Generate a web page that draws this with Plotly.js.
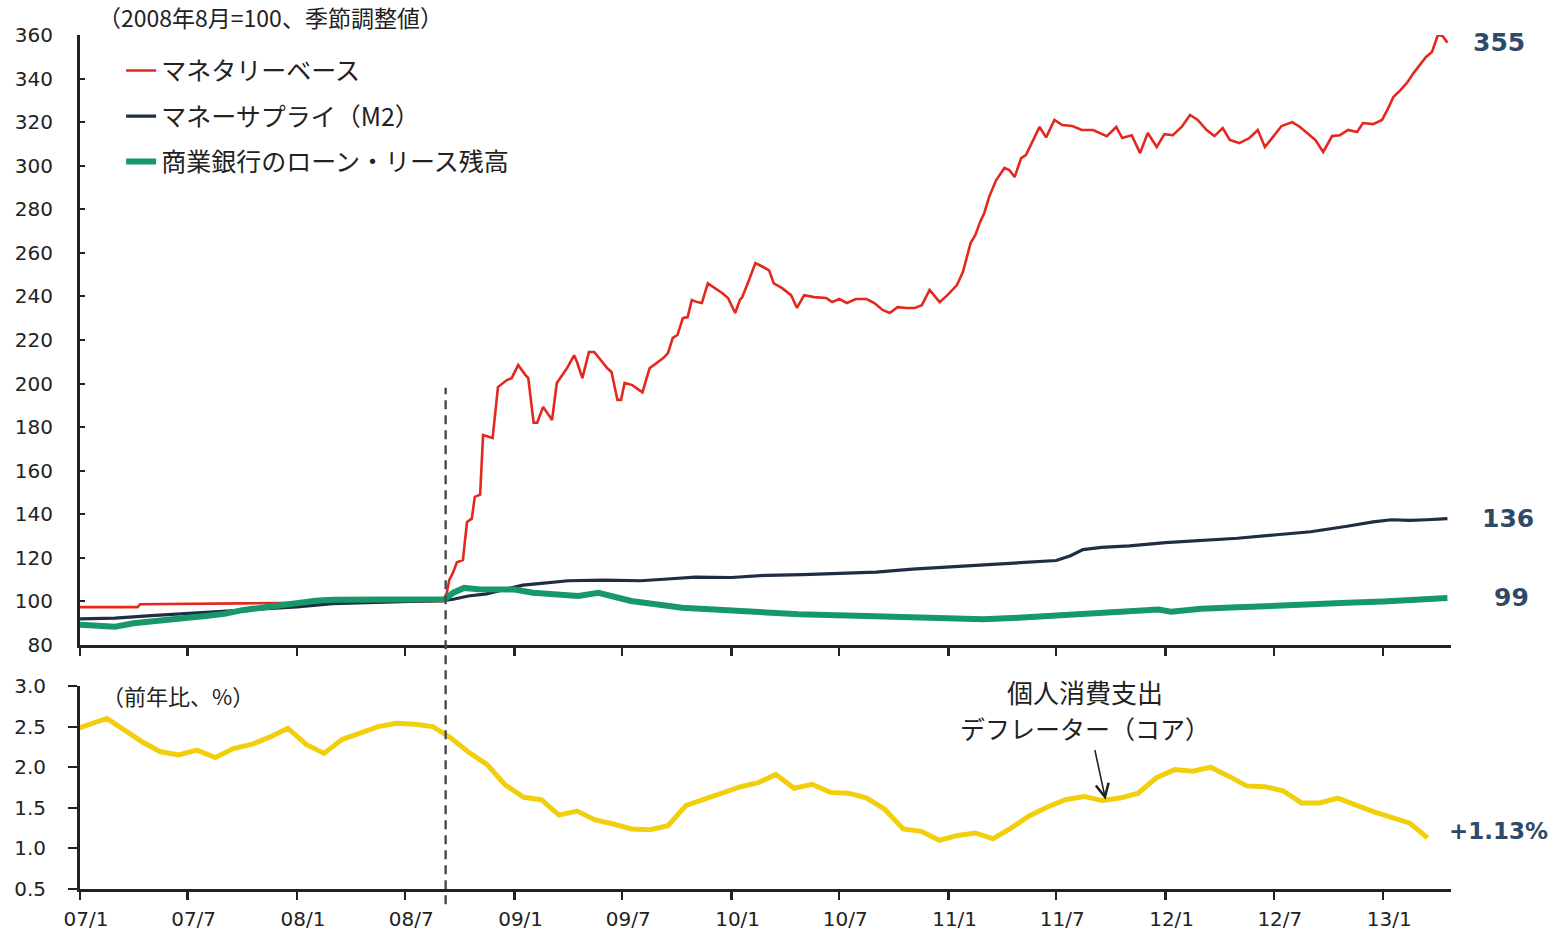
<!DOCTYPE html>
<html>
<head>
<meta charset="utf-8">
<script src="https://cdn.plot.ly/plotly-3.0.1.min.js"></script>
<style>
html,body{margin:0;padding:0;background:#fff;}
#chart{width:1553px;height:935px;}
</style>
</head>
<body>
<div id="chart"></div>
<script>
// ---- X axis ticks ----
const tickDates = ['2007-01-01','2007-07-01','2008-01-01','2008-07-01','2009-01-01','2009-07-01','2010-01-01','2010-07-01','2011-01-01','2011-07-01','2012-01-01','2012-07-01','2013-01-01'];
const tickLabels = ['07/1','07/7','08/1','08/7','09/1','09/7','10/1','10/7','11/1','11/7','12/1','12/7','13/1'];
const xStart = '2007-01-01';
const xEnd = '2013-04-25';
const lehmanDate = '2008-09-07';

// ---- Monetary base (2008/8 = 100) ----
const baseDates = ['2007-01-01','2007-04-08','2007-04-12','2007-08-20','2007-10-01','2007-12-01','2008-02-01','2008-04-01','2008-06-01','2008-08-01','2008-09-03','2008-09-09','2008-09-13','2008-09-19','2008-09-26','2008-10-06','2008-10-13','2008-10-21','2008-10-26','2008-11-04','2008-11-09','2008-11-25','2008-12-04','2008-12-19','2008-12-27','2009-01-07','2009-01-19','2009-01-24','2009-02-02','2009-02-08','2009-02-18','2009-03-05','2009-03-13','2009-03-25','2009-03-30','2009-04-11','2009-04-16','2009-04-25','2009-05-06','2009-05-15','2009-05-23','2009-06-06','2009-06-13','2009-06-23','2009-06-29','2009-07-05','2009-07-18','2009-08-04','2009-08-16','2009-08-28','2009-09-08','2009-09-16','2009-09-24','2009-10-02','2009-10-11','2009-10-19','2009-10-26','2009-11-04','2009-11-12','2009-11-22','2009-12-04','2009-12-16','2009-12-26','2010-01-07','2010-01-15','2010-01-19','2010-01-29','2010-02-10','2010-02-23','2010-03-05','2010-03-13','2010-03-27','2010-04-11','2010-04-21','2010-05-03','2010-05-20','2010-06-09','2010-06-19','2010-07-01','2010-07-14','2010-07-29','2010-08-16','2010-08-29','2010-09-12','2010-09-24','2010-10-07','2010-10-22','2010-11-05','2010-11-17','2010-11-30','2010-12-17','2010-12-30','2011-01-15','2011-01-25','2011-02-07','2011-02-15','2011-02-23','2011-03-02','2011-03-10','2011-03-22','2011-04-05','2011-04-13','2011-04-22','2011-05-03','2011-05-11','2011-05-21','2011-06-03','2011-06-14','2011-06-28','2011-07-11','2011-07-28','2011-08-13','2011-09-01','2011-09-24','2011-10-10','2011-10-20','2011-11-05','2011-11-19','2011-12-02','2011-12-17','2011-12-30','2012-01-13','2012-01-28','2012-02-11','2012-02-24','2012-03-10','2012-03-23','2012-04-06','2012-04-18','2012-05-04','2012-05-21','2012-06-04','2012-06-16','2012-06-29','2012-07-14','2012-08-01','2012-08-14','2012-08-26','2012-09-09','2012-09-22','2012-10-07','2012-10-20','2012-11-03','2012-11-18','2012-11-28','2012-12-15','2012-12-30','2013-01-08','2013-01-18','2013-01-30','2013-02-11','2013-02-21','2013-03-03','2013-03-14','2013-03-24','2013-04-03','2013-04-11','2013-04-19'];
const baseValues = [97.4,97.4,98.7,98.8,99.1,99.3,99.4,99.6,99.8,100.0,100.1,104.0,109.8,113.0,118.0,119.0,136.5,138.0,148.0,149.0,176.4,175.0,198.4,201.6,202.5,208.5,204.0,202.5,182.0,182.0,189.3,183.3,200.3,205.3,207.0,213.0,209.9,202.5,214.5,214.5,211.7,207.0,205.3,192.5,192.5,200.3,199.3,196.0,207.0,209.4,211.7,214.0,221.0,222.3,230.0,230.5,238.4,237.4,237.0,246.0,243.8,241.6,239.3,232.4,238.4,239.7,246.6,255.3,253.5,252.0,246.0,243.8,240.6,234.7,240.6,239.7,239.3,237.4,238.8,237.0,238.8,238.8,237.0,233.8,232.4,235.1,234.7,234.7,236.0,243.0,237.4,240.6,245.2,251.2,264.5,268.2,274.2,278.3,285.6,293.4,299.0,298.0,294.8,303.5,304.9,310.4,317.8,313.0,321.0,318.7,318.2,316.4,316.4,313.6,317.8,312.7,314.0,305.8,315.0,308.6,314.5,314.0,317.8,323.3,321.0,316.4,313.6,317.3,311.8,310.4,312.7,316.4,308.6,313.0,318.2,320.0,317.8,315.0,311.8,306.3,313.6,314.0,316.4,315.5,319.6,319.1,321.0,325.6,331.5,334.7,338.4,342.5,346.2,349.9,352.2,360.0,359.5,356.5];

// ---- Money supply M2 (2008/8 = 100) ----
const m2Dates = ['2007-01-01','2007-03-01','2007-05-01','2007-07-01','2007-09-01','2007-11-01','2008-01-01','2008-03-01','2008-05-01','2008-07-01','2008-09-05','2008-09-20','2008-10-15','2008-11-15','2008-12-15','2009-01-15','2009-02-15','2009-04-01','2009-06-01','2009-08-01','2009-09-15','2009-11-01','2010-01-01','2010-03-01','2010-05-01','2010-07-01','2010-09-01','2010-11-01','2011-01-01','2011-03-01','2011-05-01','2011-07-01','2011-07-25','2011-08-15','2011-09-15','2011-11-01','2012-01-01','2012-03-01','2012-05-01','2012-07-01','2012-09-01','2012-11-01','2012-12-15','2013-01-15','2013-02-15','2013-03-15','2013-04-19'];
const m2Values = [92.0,92.3,93.5,94.5,95.5,96.5,97.5,99.0,99.5,99.8,100.5,101.0,102.5,103.5,105.5,107.5,108.3,109.5,109.8,109.5,110.3,111.2,111.0,112.0,112.3,112.8,113.5,114.8,115.8,116.5,117.5,118.8,121.0,123.8,124.8,125.5,127.0,128.0,129.0,130.5,132.0,134.5,136.5,137.5,137.2,137.5,138.0];

// ---- Commercial bank loans & leases (2008/8 = 100) ----
const loanDates = ['2007-01-01','2007-02-01','2007-03-01','2007-04-01','2007-05-01','2007-07-01','2007-08-01','2007-09-01','2007-10-01','2007-11-01','2007-12-01','2008-01-01','2008-02-01','2008-03-01','2008-05-01','2008-07-01','2008-09-05','2008-09-20','2008-10-08','2008-11-01','2008-12-07','2009-01-01','2009-02-01','2009-04-18','2009-05-22','2009-07-16','2009-10-10','2010-01-03','2010-04-24','2010-08-15','2010-12-04','2011-02-28','2011-04-28','2011-07-01','2011-09-01','2011-11-01','2011-12-20','2012-01-10','2012-03-01','2012-05-01','2012-07-01','2012-09-01','2012-11-01','2013-01-01','2013-03-01','2013-04-19'];
const loanValues = [89.3,89.0,88.4,90.0,91.0,92.5,93.3,94.3,96.0,97.2,98.5,99.4,100.3,100.8,100.8,100.8,101.0,104.0,106.2,105.6,105.6,105.5,104.0,102.5,104.0,100.2,97.1,95.6,94.1,93.3,92.5,91.8,92.5,93.5,94.5,95.3,96.3,95.3,96.6,97.3,98.2,98.8,99.4,100.0,100.9,101.6];

// ---- Core PCE deflator (YoY, %) ----
const pceMonths = ['2006-12','2007-01','2007-02','2007-03','2007-04','2007-05','2007-06','2007-07','2007-08','2007-09','2007-10','2007-11','2007-12','2008-01','2008-02','2008-03','2008-04','2008-05','2008-06','2008-07','2008-08','2008-09','2008-10','2008-11','2008-12','2009-01','2009-02','2009-03','2009-04','2009-05','2009-06','2009-07','2009-08','2009-09','2009-10','2009-11','2009-12','2010-01','2010-02','2010-03','2010-04','2010-05','2010-06','2010-07','2010-08','2010-09','2010-10','2010-11','2010-12','2011-01','2011-02','2011-03','2011-04','2011-05','2011-06','2011-07','2011-08','2011-09','2011-10','2011-11','2011-12','2012-01','2012-02','2012-03','2012-04','2012-05','2012-06','2012-07','2012-08','2012-09','2012-10','2012-11','2012-12','2013-01','2013-02','2013-03'];
const pceValues = [2.45,2.52,2.60,2.46,2.31,2.19,2.15,2.21,2.12,2.23,2.28,2.37,2.48,2.28,2.17,2.34,2.42,2.50,2.54,2.53,2.50,2.36,2.18,2.03,1.78,1.63,1.60,1.41,1.46,1.35,1.30,1.24,1.23,1.28,1.53,1.61,1.68,1.76,1.81,1.91,1.74,1.79,1.69,1.68,1.62,1.48,1.24,1.21,1.10,1.16,1.19,1.12,1.25,1.40,1.51,1.60,1.64,1.59,1.62,1.68,1.87,1.97,1.95,2.00,1.89,1.77,1.76,1.71,1.56,1.56,1.62,1.53,1.45,1.38,1.31,1.13];

const seriesNames = ['マネタリーベース','マネーサプライ（M2）','商業銀行のローン・リース残高'];
const endLabels = ['355','136','99','+1.13%'];
const noteTop = '（2008年8月=100、季節調整値）';
const noteBottom = '（前年比、%）';
const pceNote = ['個人消費支出','デフレーター（コア）'];

const RED = '#e3291d', NAVY = '#1f2d45', GREEN = '#16986a', YELLOW = '#f2cf0c';
const LABEL_BLUE = '#2e4a66';
const AX = '#222222';
const jp = '"Noto Sans CJK JP", "Noto Sans", sans-serif';
const num = '"DejaVu Sans", "Noto Sans CJK JP", sans-serif';

const traces = [
  {x: baseDates, y: baseValues, name: seriesNames[0], type: 'scatter', mode: 'lines',
   line: {color: RED, width: 2.6}, xaxis: 'x', yaxis: 'y', legendgroup: 'a'},
  {x: m2Dates, y: m2Values, name: seriesNames[1], type: 'scatter', mode: 'lines',
   line: {color: NAVY, width: 3.2}, xaxis: 'x', yaxis: 'y', legendgroup: 'b'},
  {x: loanDates, y: loanValues, name: seriesNames[2], type: 'scatter', mode: 'lines',
   line: {color: GREEN, width: 6}, xaxis: 'x', yaxis: 'y', legendgroup: 'c'},
  {x: pceMonths, y: pceValues, name: 'PCE', type: 'scatter', mode: 'lines',
   xperiod: 'M1', xperiodalignment: 'middle',
   line: {color: YELLOW, width: 5}, xaxis: 'x2', yaxis: 'y2', showlegend: false}
];

const xCommon = {type: 'date', range: [xStart, xEnd], tickmode: 'array', tickvals: tickDates,
  showgrid: false, zeroline: false, automargin: false, tickcolor: AX, tickwidth: 2.5, ticklen: 8};

const last = a => a[a.length - 1];

const layout = {
  width: 1553, height: 935,
  margin: {l: 80, r: 102, t: 35, b: 46},
  paper_bgcolor: '#ffffff', plot_bgcolor: '#ffffff',
  font: {family: num, color: AX, size: 20},
  showlegend: true,
  legend: {x: 0.03, y: 0.985, xanchor: 'left', yanchor: 'top', bgcolor: 'rgba(0,0,0,0)',
    font: {family: jp, size: 25, color: AX}, traceorder: 'grouped', tracegroupgap: 10},
  xaxis: Object.assign({}, xCommon, {domain: [0, 1], anchor: 'y', ticks: 'outside', showticklabels: false,
    showline: true, linecolor: AX, linewidth: 3}),
  xaxis3: Object.assign({}, xCommon, {overlaying: 'x', anchor: 'y', ticks: 'inside', showticklabels: false, showline: false}),
  xaxis2: Object.assign({}, xCommon, {domain: [0, 1], anchor: 'y2', ticks: 'outside', ticktext: tickLabels,
    showticklabels: true, showline: true, linecolor: AX, linewidth: 3,
    tickfont: {family: num, size: 20, color: AX}, ticklabelstandoff: 2, ticklabelshift: 6}),
  xaxis4: Object.assign({}, xCommon, {overlaying: 'x2', anchor: 'y2', ticks: 'inside', showticklabels: false, showline: false}),
  yaxis: {domain: [0.2857, 1], anchor: 'x', range: [80, 360], tick0: 80, dtick: 20,
    ticks: 'inside', ticklen: 5, tickwidth: 2, tickcolor: AX, showline: true, linecolor: AX, linewidth: 3,
    showgrid: false, zeroline: false, automargin: false, tickfont: {family: num, size: 20, color: AX}, ticklabelstandoff: 20},
  yaxis2: {domain: [0, 0.2377], anchor: 'x2', range: [0.5, 3.0], tick0: 0.5, dtick: 0.5, tickformat: '.1f',
    ticks: 'outside', ticklen: 9, tickwidth: 2, tickcolor: AX, showline: true, linecolor: AX, linewidth: 3,
    showgrid: false, zeroline: false, automargin: false, tickfont: {family: num, size: 20, color: AX}, ticklabelstandoff: 18},
  shapes: [
    {type: 'line', xref: 'x', yref: 'paper', x0: lehmanDate, x1: lehmanDate, y0: -0.018, y1: 0.587,
     line: {color: '#4a4a4a', width: 2.4, dash: '9px,6px'}, layer: 'above'}
  ],
  annotations: [
    {xref: 'paper', yref: 'paper', x: 0.012, y: 1.021, xanchor: 'left', yanchor: 'middle', showarrow: false,
     text: noteTop, font: {family: jp, size: 23, color: AX}},
    {xref: 'paper', yref: 'paper', x: 0.0146, y: 0.2272, xanchor: 'left', yanchor: 'middle', showarrow: false,
     text: noteBottom, font: {family: jp, size: 22, color: AX}},
    {xref: 'paper', yref: 'y', x: 1, xshift: 20, y: last(baseValues), xanchor: 'left', yanchor: 'middle', showarrow: false,
     text: endLabels[0], font: {family: num, size: 25, color: LABEL_BLUE, weight: 'bold'}},
    {xref: 'paper', yref: 'y', x: 1, xshift: 29, y: last(m2Values), xanchor: 'left', yanchor: 'middle', showarrow: false,
     text: endLabels[1], font: {family: num, size: 25, color: LABEL_BLUE, weight: 'bold'}},
    {xref: 'paper', yref: 'y', x: 1, xshift: 41, y: last(loanValues), xanchor: 'left', yanchor: 'middle', showarrow: false,
     text: endLabels[2], font: {family: num, size: 25, color: LABEL_BLUE, weight: 'bold'}},
    {xref: 'paper', yref: 'y2', x: 1, xshift: -4, y: last(pceValues), yshift: 7, xanchor: 'left', yanchor: 'middle', showarrow: false,
     text: endLabels[3], font: {family: num, size: 23, color: LABEL_BLUE, weight: 'bold'}},
    {xref: 'paper', yref: 'paper', x: 0.733, y: 0.2318, xanchor: 'center', yanchor: 'middle', showarrow: false,
     text: pceNote[0], font: {family: jp, size: 26, color: AX}},
    {xref: 'paper', yref: 'paper', x: 0.733, y: 0.1885, xanchor: 'center', yanchor: 'middle', showarrow: false,
     text: pceNote[1], font: {family: jp, size: 25, color: AX}},
    {xref: 'x2', yref: 'y2', x: '2011-09-22', y: 1.60, text: '', showarrow: true, arrowhead: 5, arrowsize: 1.6,
     arrowwidth: 1.6, arrowcolor: AX, ax: -11, ay: -51, standoff: 0}
  ]
};

Plotly.newPlot('chart', traces, layout, {displayModeBar: false, staticPlot: true});
</script>
</body>
</html>
